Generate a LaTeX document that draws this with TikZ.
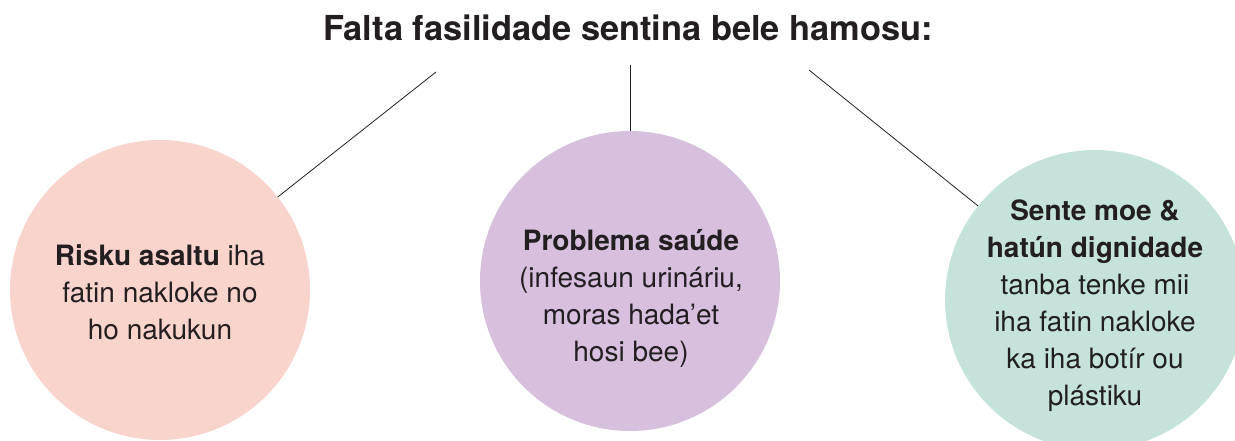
\documentclass[tikz,border=0pt]{standalone}
\usepackage{fontspec}
\setmainfont{TeX Gyre Heros}
\usetikzlibrary{positioning}

\definecolor{inkColor}{RGB}{35,31,32}
\definecolor{pinkFill}{RGB}{249,212,205}
\definecolor{lilacFill}{RGB}{214,192,222}
\definecolor{mintFill}{RGB}{197,227,219}

\tikzset{
  bubble/.style={circle,inner sep=0pt,outer sep=0pt,minimum size=300pt,draw=none},
  bubbletext/.style={text=inkColor,align=center,inner sep=0pt,font=\fontsize{28}{37}\selectfont},
  linkline/.style={draw=inkColor,line width=0.8pt}
}

\begin{document}
\begin{tikzpicture}[x=1pt,y=-1pt]
\path[use as bounding box] (0,0) rectangle (1235,441);
\path[clip] (0,0) rectangle (1235,441);

% circles
\node[bubble,fill=pinkFill]  (risk)   at ( 160,290) {};
\node[bubble,fill=lilacFill] (health) at ( 630,281) {};
\node[bubble,fill=mintFill]  (shame)  at (1095,300) {};

% title
\node[text=inkColor,anchor=base,inner sep=0pt,font=\fontsize{34.4}{38}\selectfont\bfseries] (title) at (628,41) {Falta fasilidade sentina bele hamosu:};

% texts
\node[bubbletext] (risktxt) at (160,292) {\textbf{Risku asaltu} iha\\fatin nakloke no\\ho nakukun};
\node[bubbletext] (healthtxt) at (631,298) {\textbf{Problema saúde}\\(infesaun urináriu,\\moras hada’et\\hosi bee)};
\node[bubbletext] (shametxt) at (1095,306) {\textbf{Sente moe \&}\\\textbf{hatún dignidade}\\tanba tenke mii\\iha fatin nakloke\\ka iha botír ou\\plástiku};

% connectors
\coordinate (riskfoot)   at (436,72);
\coordinate (healthfoot) at (630,65);
\coordinate (shamefoot)  at (809,70);
\draw[linkline] (riskfoot) -- (risk);
\draw[linkline] (healthfoot) -- (health);
\draw[linkline] (shamefoot) -- (shame);
\end{tikzpicture}
\end{document}
